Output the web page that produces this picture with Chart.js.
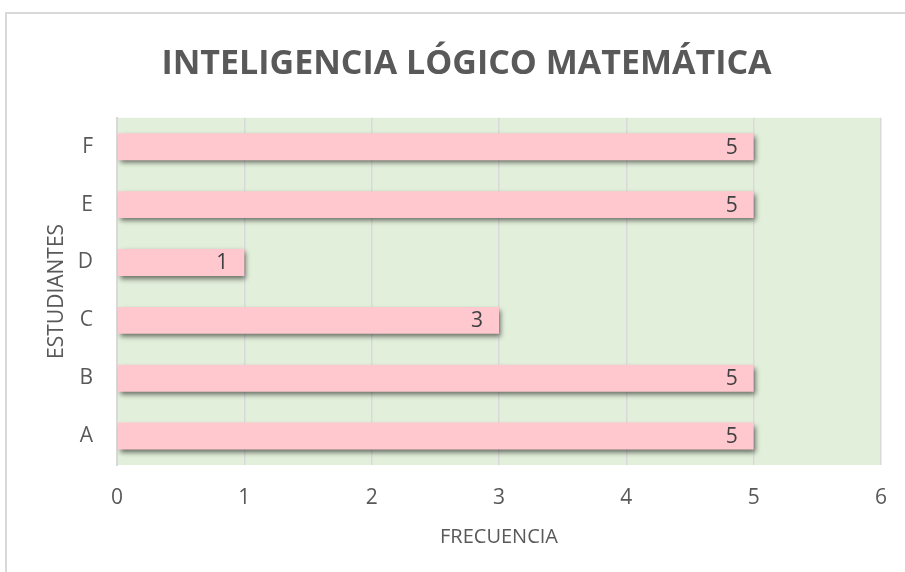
<!DOCTYPE html>
<html>
<head>
<meta charset="utf-8">
<script src="https://cdn.jsdelivr.net/npm/chart.js@4.4.1/dist/chart.umd.min.js"></script>
<style>
  html, body { margin: 0; padding: 0; background: #fff; overflow: hidden; }
  #frame { position: absolute; left: 5px; top: 12px; width: 1000px; height: 1000px;
           border-left: 2px solid #d9d9d9; border-top: 2px solid #d9d9d9; }
  #wrap { position: absolute; left: 0; top: 0; width: 905px; height: 572px; }
</style>
</head>
<body>
<div id="frame"></div>
<div id="wrap"><canvas id="chart" width="905" height="572"></canvas></div>
<script>
const TITLE = "INTELIGENCIA LÓGICO MATEMÁTICA";
const STUDENTS = ["F", "E", "D", "C", "B", "A"];
const FREQUENCY = [5, 5, 1, 3, 5, 5];
const X_TICKS = [0, 1, 2, 3, 4, 5, 6];
const X_TITLE = "FRECUENCIA";
const Y_TITLE = "ESTUDIANTES";

const FONT = "'Open Sans', sans-serif";
const TEXT = "#595959";

// green plot background
const plotBg = {
    id: "plotBg",
    beforeDraw(chart) {
        const a = chart.chartArea;
        const ctx = chart.ctx;
        ctx.save();
        ctx.fillStyle = "#e2efda";
        ctx.fillRect(a.left, a.top, a.right - a.left, a.bottom - a.top);
        ctx.restore();
    }
};

// soft shadow under the bars
const barShadow = {
    id: "barShadow",
    beforeDatasetDraw(chart) {
        const ctx = chart.ctx;
        ctx.save();
        ctx.shadowColor = "rgba(0,0,0,0.55)";
        ctx.shadowBlur = 5;
        ctx.shadowOffsetX = 2;
        ctx.shadowOffsetY = 3;
    },
    afterDatasetDraw(chart) {
        chart.ctx.restore();
    }
};

// value labels at the inside end of each bar
const valueLabels = {
    id: "valueLabels",
    afterDatasetsDraw(chart) {
        const ctx = chart.ctx;
        const meta = chart.getDatasetMeta(0);
        ctx.save();
        ctx.font = "21px " + FONT;
        ctx.fillStyle = "#404040";
        ctx.textAlign = "right";
        ctx.textBaseline = "middle";
        meta.data.forEach((bar, i) => {
            ctx.fillText(String(FREQUENCY[i]), bar.x - 16, bar.y + 1);
        });
        ctx.restore();
    }
};

new Chart(document.getElementById("chart"), {
    type: "bar",
    data: {
        labels: STUDENTS,
        datasets: [{
            data: FREQUENCY,
            backgroundColor: "#ffc7ce",
            borderWidth: 0,
            barPercentage: 0.465,
            categoryPercentage: 1
        }]
    },
    options: {
        indexAxis: "y",
        responsive: false,
        animation: false,
        layout: { padding: { left: 28, right: 0, top: 0, bottom: 0 } },
        plugins: {
            legend: { display: false },
            tooltip: { enabled: false },
            title: {
                display: true,
                text: TITLE,
                color: TEXT,
                font: { family: FONT, size: 34, weight: "bold" },
                padding: { top: 44, bottom: 33 }
            }
        },
        scales: {
            x: {
                min: 0,
                max: 6,
                afterBuildTicks: (s) => { s.ticks = X_TICKS.map(v => ({ value: v })); },
                afterFit: (s) => { s.height = 107; s.paddingRight = 24; s.paddingLeft = 0; },
                grid: { color: "#d9d9d9", lineWidth: 1.5, drawTicks: false },
                border: { display: false },
                ticks: { color: TEXT, font: { family: FONT, size: 21 }, padding: 20 },
                title: {
                    display: true,
                    text: X_TITLE,
                    color: TEXT,
                    font: { family: FONT, size: 20 },
                    padding: { top: 4, bottom: 23 }
                }
            },
            y: {
                afterFit: (s) => { s.width = 89; },
                grid: { display: false, drawTicks: false },
                border: { display: true, color: "#d9d9d9", width: 2 },
                ticks: { color: TEXT, font: { family: FONT, size: 21 }, padding: 24 },
                title: {
                    display: true,
                    text: Y_TITLE,
                    color: TEXT,
                    font: { family: FONT, size: 21 },
                    padding: { top: 16, bottom: 0 }
                }
            }
        }
    },
    plugins: [plotBg, barShadow, valueLabels]
});
</script>
</body>
</html>
